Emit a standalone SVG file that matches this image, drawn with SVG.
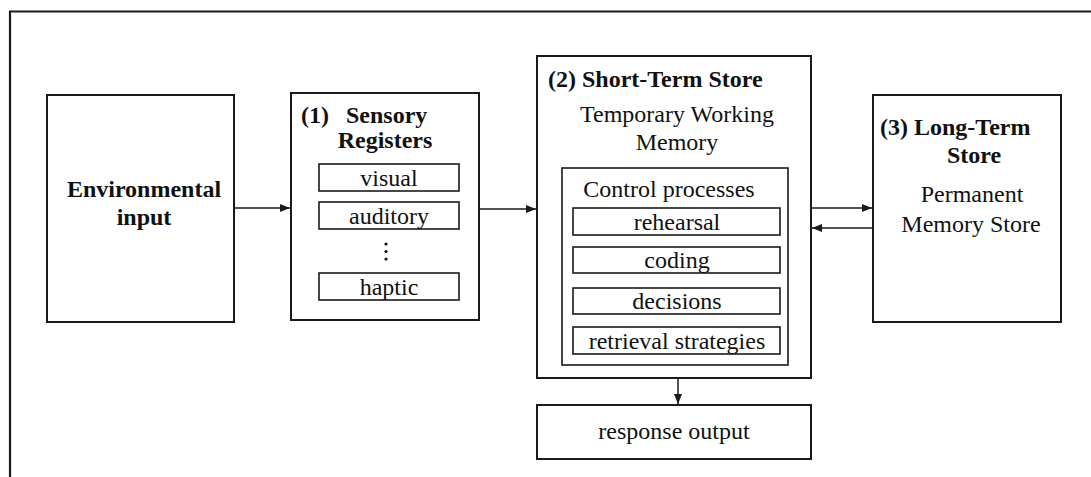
<svg xmlns="http://www.w3.org/2000/svg" width="1091" height="477" viewBox="0 0 1091 477">
<style>
.box{fill:#fff;stroke:#1a1a1a;stroke-width:2}
.sub{fill:#fff;stroke:#1a1a1a;stroke-width:1.6}
.b{font-family:"Liberation Serif",serif;font-weight:bold;font-size:24px;fill:#111}
.r{font-family:"Liberation Serif",serif;font-size:24px;fill:#111}
.c{text-anchor:middle}
.ln{stroke:#1a1a1a;stroke-width:1.5;fill:none}
</style>
<defs>
<marker id="ah" markerWidth="10" markerHeight="8" refX="10" refY="4" orient="auto" markerUnits="userSpaceOnUse">
<path d="M0,0 L10,4 L0,8 Z" fill="#1a1a1a"/>
</marker>
</defs>
<rect width="1091" height="477" fill="#fff"/>
<path d="M10,477 V11.5 H1091" fill="none" stroke="#1a1a1a" stroke-width="2.2"/>
<g id="env">
<rect class="box" x="47" y="95" width="187" height="227"/>
<text class="b c" x="144" y="197">Environmental</text>
<text class="b c" x="144" y="225">input</text>
</g>
<g id="sensory">
<rect class="box" x="291" y="93" width="188" height="227"/>
<text class="b" x="301" y="123">(1)</text>
<text class="b" x="346" y="123">Sensory</text>
<text class="b c" x="385" y="148">Registers</text>
<rect class="sub" x="319" y="164" width="140" height="27"/>
<text class="r c" x="389" y="186">visual</text>
<rect class="sub" x="319" y="202" width="140" height="27"/>
<text class="r c" x="389" y="224">auditory</text>
<circle cx="386" cy="244" r="1.6" fill="#111"/>
<circle cx="386" cy="251.5" r="1.6" fill="#111"/>
<circle cx="386" cy="259" r="1.6" fill="#111"/>
<rect class="sub" x="319" y="273" width="140" height="27"/>
<text class="r c" x="389" y="295">haptic</text>
</g>
<g id="sts">
<rect class="box" x="537" y="56" width="274" height="322"/>
<text class="b" x="548" y="87">(2) Short-Term Store</text>
<text class="r c" x="677" y="122">Temporary Working</text>
<text class="r c" x="677" y="150">Memory</text>
<rect class="sub" x="562" y="168" width="226" height="197"/>
<text class="r c" x="669" y="197">Control processes</text>
<rect class="sub" x="573" y="208" width="207" height="27"/>
<text class="r c" x="677" y="230">rehearsal</text>
<rect class="sub" x="573" y="247" width="207" height="26"/>
<text class="r c" x="677" y="268">coding</text>
<rect class="sub" x="573" y="288" width="207" height="26"/>
<text class="r c" x="677" y="309">decisions</text>
<rect class="sub" x="573" y="327" width="207" height="27"/>
<text class="r c" x="677" y="349">retrieval strategies</text>
</g>
<g id="lts">
<rect class="box" x="873" y="95" width="188" height="227"/>
<text class="b" x="880" y="135">(3) Long-Term</text>
<text class="b c" x="974" y="163">Store</text>
<text class="r c" x="972" y="202">Permanent</text>
<text class="r c" x="971" y="232">Memory Store</text>
</g>
<g id="response">
<rect class="box" x="537" y="405" width="274" height="54"/>
<text class="r c" x="674" y="439">response output</text>
</g>
<g id="connectors">
<line class="ln" x1="234" y1="208" x2="290" y2="208" marker-end="url(#ah)"/>
<line class="ln" x1="479" y1="209" x2="536" y2="209" marker-end="url(#ah)"/>
<line class="ln" x1="811" y1="208" x2="872" y2="208" marker-end="url(#ah)"/>
<line class="ln" x1="873" y1="228" x2="812" y2="228" marker-end="url(#ah)"/>
<line class="ln" x1="678" y1="378" x2="678" y2="404" marker-end="url(#ah)"/>
</g>
</svg>
